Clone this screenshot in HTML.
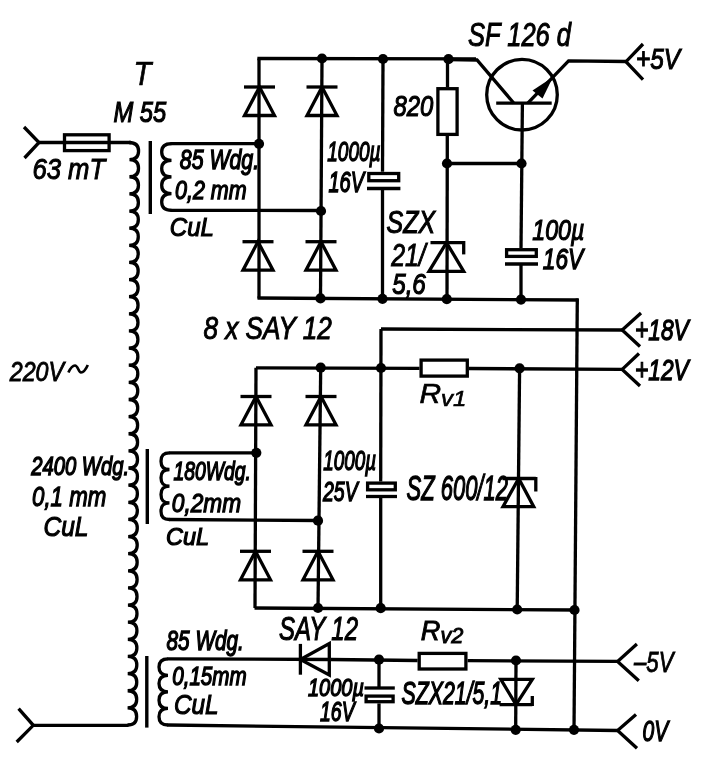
<!DOCTYPE html>
<html><head><meta charset="utf-8"><style>
html,body{margin:0;padding:0;background:#fff;}
svg{display:block;}
text{-webkit-font-smoothing:antialiased;}
.tx{will-change:transform;}
</style></head><body>
<svg width="714" height="768" viewBox="0 0 714 768">
<rect width="714" height="768" fill="#fff"/>
<g fill="none" stroke="#000" stroke-linecap="butt" stroke-linejoin="miter">
<path d="M24 127 L39 142.5 L24.5 158" stroke-width="3.3"/>
<line x1="39" y1="142.5" x2="131" y2="142.5" stroke-width="3.3"/>
<rect x="64.5" y="134.8" width="44.6" height="15.8" stroke-width="3.3"/>
<path d="M129 142.5 C135.47 142.50 138.57 145.00 138.57 151.07 C138.57 157.13 135.44 159.63 129.44 159.63 C135.41 159.63 138.51 162.13 138.51 168.20 C138.51 174.26 135.38 176.76 129.38 176.76 C135.35 176.76 138.45 179.26 138.45 185.33 C138.45 191.40 135.32 193.90 129.32 193.90 C135.29 193.90 138.39 196.40 138.39 202.46 C138.39 208.53 135.26 211.03 129.26 211.03 C135.24 211.03 138.34 213.53 138.34 219.60 C138.34 225.66 135.21 228.16 129.21 228.16 C135.18 228.16 138.28 230.66 138.28 236.73 C138.28 242.79 135.15 245.29 129.15 245.29 C135.12 245.29 138.22 247.79 138.22 253.86 C138.22 259.93 135.09 262.43 129.09 262.43 C135.06 262.43 138.16 264.93 138.16 270.99 C138.16 277.06 135.03 279.56 129.03 279.56 C135.00 279.56 138.10 282.06 138.10 288.12 C138.10 294.19 134.97 296.69 128.97 296.69 C134.94 296.69 138.04 299.19 138.04 305.26 C138.04 311.32 134.91 313.82 128.91 313.82 C134.88 313.82 137.98 316.32 137.98 322.39 C137.98 328.46 134.85 330.96 128.85 330.96 C134.82 330.96 137.92 333.46 137.92 339.52 C137.92 345.59 134.79 348.09 128.79 348.09 C134.76 348.09 137.86 350.59 137.86 356.65 C137.86 362.72 134.74 365.22 128.74 365.22 C134.71 365.22 137.81 367.72 137.81 373.79 C137.81 379.85 134.68 382.35 128.68 382.35 C134.65 382.35 137.75 384.85 137.75 390.92 C137.75 396.99 134.62 399.49 128.62 399.49 C134.59 399.49 137.69 401.99 137.69 408.05 C137.69 414.12 134.56 416.62 128.56 416.62 C134.53 416.62 137.63 419.12 137.63 425.18 C137.63 431.25 134.50 433.75 128.50 433.75 C134.47 433.75 137.57 436.25 137.57 442.32 C137.57 448.38 134.44 450.88 128.44 450.88 C134.41 450.88 137.51 453.38 137.51 459.45 C137.51 465.51 134.38 468.01 128.38 468.01 C134.35 468.01 137.45 470.51 137.45 476.58 C137.45 482.65 134.32 485.15 128.32 485.15 C134.29 485.15 137.39 487.65 137.39 493.71 C137.39 499.78 134.26 502.28 128.26 502.28 C134.24 502.28 137.34 504.78 137.34 510.85 C137.34 516.91 134.21 519.41 128.21 519.41 C134.18 519.41 137.28 521.91 137.28 527.98 C137.28 534.04 134.15 536.54 128.15 536.54 C134.12 536.54 137.22 539.04 137.22 545.11 C137.22 551.18 134.09 553.68 128.09 553.68 C134.06 553.68 137.16 556.18 137.16 562.24 C137.16 568.31 134.03 570.81 128.03 570.81 C134.00 570.81 137.10 573.31 137.10 579.38 C137.10 585.44 133.97 587.94 127.97 587.94 C133.94 587.94 137.04 590.44 137.04 596.51 C137.04 602.57 133.91 605.07 127.91 605.07 C133.88 605.07 136.98 607.57 136.98 613.64 C136.98 619.71 133.85 622.21 127.85 622.21 C133.82 622.21 136.92 624.71 136.92 630.77 C136.92 636.84 133.79 639.34 127.79 639.34 C133.76 639.34 136.86 641.84 136.86 647.90 C136.86 653.97 133.74 656.47 127.74 656.47 C133.71 656.47 136.81 658.97 136.81 665.04 C136.81 671.10 133.68 673.60 127.68 673.60 C133.65 673.60 136.75 676.10 136.75 682.17 C136.75 688.24 133.62 690.74 127.62 690.74 C133.59 690.74 136.69 693.24 136.69 699.30 C136.69 705.37 133.56 707.87 127.56 707.87 C133.53 707.87 136.63 710.37 136.63 716.43 C136.63 722.50 133.50 725.00 127.50 725.00" stroke-width="3.3"/>
<line x1="33.3" y1="725.3" x2="128.5" y2="725.3" stroke-width="3.3"/>
<path d="M18.6 708.6 L33.3 725.3 L16.7 742" stroke-width="3.3"/>
<line x1="150.3" y1="141" x2="150.3" y2="214" stroke-width="3.4"/>
<line x1="147.3" y1="449" x2="147.3" y2="524" stroke-width="3.4"/>
<line x1="146.8" y1="656" x2="146.8" y2="727.6" stroke-width="3.4"/>
<path d="M171.5 143.6 C165.50 143.60 161.70 146.10 161.70 151.94 C161.70 157.78 165.50 160.28 171.50 160.28 C165.50 160.28 161.70 162.78 161.70 168.61 C161.70 174.45 165.50 176.95 171.50 176.95 C165.50 176.95 161.70 179.45 161.70 185.29 C161.70 191.12 165.50 193.62 171.50 193.62 C165.50 193.62 161.70 196.12 161.70 201.96 C161.70 207.80 165.50 210.30 171.50 210.30" stroke-width="3.3"/>
<path d="M169.5 452.8 C163.50 452.80 161.00 455.30 161.00 461.14 C161.00 466.98 163.50 469.48 169.50 469.48 C163.50 469.48 161.00 471.98 161.00 477.81 C161.00 483.65 163.50 486.15 169.50 486.15 C163.50 486.15 161.00 488.65 161.00 494.49 C161.00 500.32 163.50 502.82 169.50 502.82 C163.50 502.82 161.00 505.32 161.00 511.16 C161.00 517.00 163.50 519.50 169.50 519.50" stroke-width="3.3"/>
<path d="M168 658.8 C162.00 658.80 159.00 661.30 159.00 667.07 C159.00 672.85 162.00 675.35 168.00 675.35 C162.00 675.35 159.00 677.85 159.00 683.62 C159.00 689.40 162.00 691.90 168.00 691.90 C162.00 691.90 159.00 694.40 159.00 700.17 C159.00 705.95 162.00 708.45 168.00 708.45 C162.00 708.45 159.00 710.95 159.00 716.73 C159.00 722.50 162.00 725.00 168.00 725.00" stroke-width="3.3"/>
<line x1="170.5" y1="143.6" x2="259" y2="143.6" stroke-width="3.3"/>
<line x1="170.5" y1="210.3" x2="321" y2="210.5" stroke-width="3.3"/>
<line x1="259" y1="58.5" x2="259" y2="298.5" stroke-width="3.3"/>
<line x1="322" y1="58.5" x2="320.5" y2="298.5" stroke-width="3.3"/>
<line x1="257.4" y1="58.5" x2="476" y2="58.8" stroke-width="3.3"/>
<line x1="257.5" y1="298" x2="578.5" y2="300" stroke-width="3.3"/>
<line x1="244.0" y1="87" x2="275.0" y2="87" stroke-width="3.3"/>
<path d="M244.5 115.5 L274.5 115.5 L259.5 87 Z" stroke-width="3.3"/>
<line x1="306.5" y1="87" x2="337.5" y2="87" stroke-width="3.3"/>
<path d="M307.0 115.5 L337.0 115.5 L322 87 Z" stroke-width="3.3"/>
<line x1="242.5" y1="241.7" x2="273.5" y2="241.7" stroke-width="3.3"/>
<path d="M243.0 270.2 L273.0 270.2 L258 241.7 Z" stroke-width="3.3"/>
<line x1="305.5" y1="241.7" x2="336.5" y2="241.7" stroke-width="3.3"/>
<path d="M306.0 270.2 L336.0 270.2 L321 241.7 Z" stroke-width="3.3"/>
<circle cx="322" cy="58.5" r="5.1" fill="#000" stroke="none"/>
<circle cx="383" cy="59" r="5.1" fill="#000" stroke="none"/>
<circle cx="448.5" cy="59.2" r="5.1" fill="#000" stroke="none"/>
<circle cx="259" cy="143.8" r="5.1" fill="#000" stroke="none"/>
<circle cx="321" cy="211" r="5.1" fill="#000" stroke="none"/>
<circle cx="320.5" cy="298.4" r="5.1" fill="#000" stroke="none"/>
<circle cx="382.5" cy="298.8" r="5.1" fill="#000" stroke="none"/>
<circle cx="446.8" cy="299.2" r="5.1" fill="#000" stroke="none"/>
<circle cx="521" cy="299.6" r="5.1" fill="#000" stroke="none"/>
<line x1="383" y1="59" x2="382.5" y2="171.8" stroke-width="3.3"/>
<line x1="382.5" y1="188.5" x2="382.5" y2="298.5" stroke-width="3.3"/>
<rect x="368.8" y="173.5" width="29.9" height="7.2" stroke-width="3.3"/>
<line x1="367" y1="188.5" x2="400.4" y2="188.5" stroke-width="3.3"/>
<line x1="447.5" y1="59" x2="447.5" y2="87" stroke-width="3.3"/>
<line x1="447.3" y1="136" x2="447" y2="298.5" stroke-width="3.3"/>
<rect x="437.9" y="88.7" width="19.2" height="45.7" stroke-width="3.3"/>
<line x1="447" y1="163.5" x2="521.5" y2="163.5" stroke-width="3.3"/>
<circle cx="447" cy="163.5" r="5.1" fill="#000" stroke="none"/>
<circle cx="521.5" cy="163.5" r="5.1" fill="#000" stroke="none"/>
<line x1="430.5" y1="242.6" x2="463.7" y2="242.6" stroke-width="3.3"/>
<line x1="463.7" y1="241" x2="463.7" y2="254.4" stroke-width="3.3"/>
<path d="M429 271.3 L463.7 271.3 L446.5 242.6 Z" stroke-width="3.3"/>
<circle cx="522" cy="94.7" r="35.3" stroke-width="3.3"/>
<path d="M448.5 59.5 L477 60 L513.9 103.2" stroke-width="3.3"/>
<line x1="496.2" y1="103.2" x2="551.7" y2="103.2" stroke-width="3.3"/>
<line x1="522.4" y1="103.2" x2="521" y2="248" stroke-width="3.3"/>
<line x1="521" y1="264" x2="521" y2="298.5" stroke-width="3.3"/>
<path d="M527.8 103.2 L568.6 60.8 L626 61.5" stroke-width="3.3"/>
<path d="M553 77 L532.5 90.5 L542.5 98.5 Z" fill="#000" stroke="none"/>
<path d="M643 44 L626 61.7 L643 79.7" stroke-width="3.3"/>
<rect x="506.6" y="249.7" width="29.7" height="6.7" stroke-width="3.3"/>
<line x1="505" y1="264" x2="538" y2="264" stroke-width="3.3"/>
<path d="M68.4 372.5 C70.5 368 72.5 365.5 75 365.5 C78 365.5 78.5 372.5 81 372.5 C84 372.5 86 369 87.8 365" stroke-width="2.7"/>
<line x1="577.3" y1="298.5" x2="574" y2="731" stroke-width="3.3"/>
<line x1="381" y1="329" x2="622" y2="330" stroke-width="3.3"/>
<path d="M641 313 L622.2 330 L640 346.5" stroke-width="3.3"/>
<line x1="256" y1="367.8" x2="419.5" y2="368.3" stroke-width="3.3"/>
<line x1="469" y1="368.5" x2="622.2" y2="369.4" stroke-width="3.3"/>
<path d="M639 353.5 L622.2 369.4 L640 386" stroke-width="3.3"/>
<rect x="421.1" y="360.1" width="46.2" height="16.0" stroke-width="3.3"/>
<line x1="381" y1="329" x2="380.7" y2="481.5" stroke-width="3.3"/>
<line x1="380.7" y1="496.5" x2="380.7" y2="608" stroke-width="3.3"/>
<line x1="256" y1="367.8" x2="255" y2="608" stroke-width="3.3"/>
<line x1="320.7" y1="367.8" x2="318" y2="608" stroke-width="3.3"/>
<line x1="519.6" y1="368" x2="517.2" y2="610" stroke-width="3.3"/>
<line x1="169" y1="452.8" x2="256.5" y2="452.8" stroke-width="3.3"/>
<line x1="169" y1="519.5" x2="318" y2="520.5" stroke-width="3.3"/>
<line x1="254.5" y1="608" x2="577" y2="610" stroke-width="3.3"/>
<line x1="240.5" y1="396.5" x2="271.5" y2="396.5" stroke-width="3.3"/>
<path d="M241.0 424.8 L271.0 424.8 L256 396.5 Z" stroke-width="3.3"/>
<line x1="305.5" y1="396.5" x2="336.5" y2="396.5" stroke-width="3.3"/>
<path d="M306.0 424.8 L336.0 424.8 L321 396.5 Z" stroke-width="3.3"/>
<line x1="240.0" y1="551.3" x2="271.0" y2="551.3" stroke-width="3.3"/>
<path d="M240.5 579.8 L270.5 579.8 L255.5 551.3 Z" stroke-width="3.3"/>
<line x1="302.5" y1="551.3" x2="333.5" y2="551.3" stroke-width="3.3"/>
<path d="M303.0 579.8 L333.0 579.8 L318 551.3 Z" stroke-width="3.3"/>
<circle cx="320.7" cy="367.7" r="5.1" fill="#000" stroke="none"/>
<circle cx="381" cy="368" r="5.1" fill="#000" stroke="none"/>
<circle cx="519.6" cy="368.3" r="5.1" fill="#000" stroke="none"/>
<circle cx="256.3" cy="452.8" r="5.1" fill="#000" stroke="none"/>
<circle cx="318" cy="520.7" r="5.1" fill="#000" stroke="none"/>
<circle cx="318" cy="608" r="5.1" fill="#000" stroke="none"/>
<circle cx="380.7" cy="608.2" r="5.1" fill="#000" stroke="none"/>
<circle cx="517.2" cy="609.5" r="5.1" fill="#000" stroke="none"/>
<circle cx="574.5" cy="610" r="5.1" fill="#000" stroke="none"/>
<rect x="367.6" y="483.1" width="27.7" height="6.7" stroke-width="3.3"/>
<line x1="366" y1="496.5" x2="397" y2="496.5" stroke-width="3.3"/>
<line x1="502.6" y1="478.5" x2="535.8" y2="478.5" stroke-width="3.3"/>
<line x1="535.8" y1="477" x2="535.8" y2="491.5" stroke-width="3.3"/>
<path d="M503 506.6 L533.7 506.6 L518.7 478.5 Z" stroke-width="3.3"/>
<line x1="167.5" y1="658.8" x2="330" y2="659.5" stroke-width="3.3"/>
<line x1="300.4" y1="643.9" x2="300.4" y2="674.7" stroke-width="3.3"/>
<path d="M329.3 643.5 L329.3 675 L300.4 659.5 Z" stroke-width="3.3"/>
<line x1="330.5" y1="659.5" x2="417.6" y2="660.5" stroke-width="3.3"/>
<rect x="419.2" y="653.4" width="46.7" height="15.6" stroke-width="3.3"/>
<line x1="467.6" y1="660.7" x2="617.6" y2="661.4" stroke-width="3.3"/>
<path d="M636.9 644.1 L617.6 661.4 L638.8 680.7" stroke-width="3.3"/>
<line x1="167.5" y1="725" x2="617.6" y2="730.5" stroke-width="3.3"/>
<path d="M636 714.5 L617.6 730.5 L637 748.2" stroke-width="3.3"/>
<line x1="379" y1="659.7" x2="379" y2="688" stroke-width="3.3"/>
<line x1="379" y1="703.4" x2="379" y2="728.5" stroke-width="3.3"/>
<line x1="364.5" y1="688" x2="394.8" y2="688" stroke-width="3.3"/>
<rect x="366.1" y="696.1" width="27.0" height="5.6" stroke-width="3.3"/>
<line x1="516" y1="660.5" x2="515.7" y2="729.8" stroke-width="3.3"/>
<path d="M500.8 679.4 L532.3 679.4 L516 704.6 Z" stroke-width="3.3"/>
<line x1="499.6" y1="704.6" x2="532.3" y2="704.6" stroke-width="3.3"/>
<line x1="532.3" y1="696" x2="532.3" y2="706" stroke-width="3.3"/>
<circle cx="379" cy="659.7" r="5.1" fill="#000" stroke="none"/>
<circle cx="516" cy="660.5" r="5.1" fill="#000" stroke="none"/>
<circle cx="379" cy="728.5" r="5.1" fill="#000" stroke="none"/>
<circle cx="515.7" cy="729.8" r="5.1" fill="#000" stroke="none"/>
<circle cx="574" cy="729.8" r="5.1" fill="#000" stroke="none"/>
</g>
<g class="tx" font-family="Liberation Sans, sans-serif" font-style="italic" fill="#000" stroke="#000" stroke-width="0.8">
<text x="133.60" y="85.30" font-size="32.41" textLength="17.84" lengthAdjust="spacingAndGlyphs" stroke-width="0.74">T</text>
<text x="113.40" y="121.60" font-size="29.36" textLength="52.72" lengthAdjust="spacingAndGlyphs" stroke-width="1.2">M 55</text>
<text x="32.40" y="179.20" font-size="29.22" textLength="72.70" lengthAdjust="spacingAndGlyphs" stroke-width="1.02">63 mT</text>
<text x="179.80" y="169.00" font-size="27.33" textLength="79.28" lengthAdjust="spacingAndGlyphs" stroke-width="1.4">85 Wdg.</text>
<text x="175.00" y="199.10" font-size="26.31" textLength="71.71" lengthAdjust="spacingAndGlyphs" stroke-width="1.34">0,2 mm</text>
<text x="169.80" y="236.20" font-size="26.31" textLength="44.13" lengthAdjust="spacingAndGlyphs" stroke-width="1.15">CuL</text>
<text x="327.20" y="160.60" font-size="28.05" textLength="53.37" lengthAdjust="spacingAndGlyphs" stroke-width="1.4">1000µ</text>
<text x="328.40" y="191.50" font-size="28.78" textLength="35.73" lengthAdjust="spacingAndGlyphs" stroke-width="1.4">16V</text>
<text x="393.40" y="115.60" font-size="29.36" textLength="39.75" lengthAdjust="spacingAndGlyphs" stroke-width="1.17">820</text>
<text x="468.00" y="45.70" font-size="32.99" textLength="103.01" lengthAdjust="spacingAndGlyphs" stroke-width="1.03">SF 126 d</text>
<text x="636.00" y="69.30" font-size="30.38" textLength="44.02" lengthAdjust="spacingAndGlyphs" stroke-width="1.13">+5V</text>
<text x="386.60" y="232.80" font-size="31.10" textLength="48.44" lengthAdjust="spacingAndGlyphs" stroke-width="1.11">SZX</text>
<text x="391.20" y="266.00" font-size="31.98" textLength="34.57" lengthAdjust="spacingAndGlyphs" stroke-width="1.02">21/</text>
<text x="392.20" y="294.00" font-size="29.07" textLength="33.61" lengthAdjust="spacingAndGlyphs" stroke-width="1.18">5,6</text>
<text x="532.20" y="240.00" font-size="30.23" textLength="52.29" lengthAdjust="spacingAndGlyphs" stroke-width="1.23">100µ</text>
<text x="542.80" y="269.40" font-size="28.78" textLength="40.34" lengthAdjust="spacingAndGlyphs" stroke-width="1.29">16V</text>
<text x="203.40" y="339.30" font-size="30.96" textLength="128.43" lengthAdjust="spacingAndGlyphs" stroke-width="0.99">8 x SAY 12</text>
<text x="635.00" y="340.00" font-size="30.23" textLength="53.68" lengthAdjust="spacingAndGlyphs" stroke-width="1.27">+18V</text>
<text x="635.00" y="379.60" font-size="29.36" textLength="53.68" lengthAdjust="spacingAndGlyphs" stroke-width="1.27">+12V</text>
<text x="9.80" y="380.60" font-size="28.05" textLength="54.24" lengthAdjust="spacingAndGlyphs" stroke-width="0.92">220V</text>
<text x="419.40" y="403.00" font-size="28.05" textLength="46.96" lengthAdjust="spacingAndGlyphs" stroke-width="0.66">R<tspan font-size="0.8em" dy="0.12em">v1</tspan></text>
<text x="31.20" y="474.60" font-size="25.58" textLength="97.90" lengthAdjust="spacingAndGlyphs" stroke-width="1.4">2400 Wdg.</text>
<text x="32.00" y="505.50" font-size="28.05" textLength="74.29" lengthAdjust="spacingAndGlyphs" stroke-width="1.26">0,1 mm</text>
<text x="43.40" y="536.30" font-size="28.05" textLength="45.09" lengthAdjust="spacingAndGlyphs" stroke-width="1.1">CuL</text>
<text x="173.40" y="479.70" font-size="25.29" textLength="77.52" lengthAdjust="spacingAndGlyphs" stroke-width="1.4">180Wdg.</text>
<text x="171.80" y="511.90" font-size="26.31" textLength="69.27" lengthAdjust="spacingAndGlyphs" stroke-width="1.28">0,2mm</text>
<text x="166.00" y="544.80" font-size="24.27" textLength="42.98" lengthAdjust="spacingAndGlyphs" stroke-width="1.22">CuL</text>
<text x="323.20" y="470.40" font-size="27.33" textLength="52.86" lengthAdjust="spacingAndGlyphs" stroke-width="1.4">1000µ</text>
<text x="323.00" y="501.20" font-size="27.33" textLength="34.72" lengthAdjust="spacingAndGlyphs" stroke-width="1.4">25V</text>
<text x="406.60" y="499.90" font-size="35.47" textLength="101.26" lengthAdjust="spacingAndGlyphs" stroke-width="1.34">SZ 600/12</text>
<text x="279.00" y="639.60" font-size="33.14" textLength="79.00" lengthAdjust="spacingAndGlyphs" stroke-width="1.16">SAY 12</text>
<text x="166.60" y="649.70" font-size="26.89" textLength="77.13" lengthAdjust="spacingAndGlyphs" stroke-width="1.4">85 Wdg.</text>
<text x="172.20" y="684.80" font-size="25.87" textLength="74.46" lengthAdjust="spacingAndGlyphs" stroke-width="1.4">0,15mm</text>
<text x="174.00" y="714.20" font-size="28.05" textLength="44.59" lengthAdjust="spacingAndGlyphs" stroke-width="1.14">CuL</text>
<text x="308.00" y="695.60" font-size="24.71" textLength="55.93" lengthAdjust="spacingAndGlyphs" stroke-width="1.4">1000µ</text>
<text x="320.00" y="720.90" font-size="27.33" textLength="34.61" lengthAdjust="spacingAndGlyphs" stroke-width="1.4">16V</text>
<text x="420.80" y="640.40" font-size="27.03" textLength="42.61" lengthAdjust="spacingAndGlyphs" stroke-width="0.92">R<tspan font-size="0.8em" dy="0.12em">v2</tspan></text>
<text x="401.60" y="704.00" font-size="30.52" textLength="100.52" lengthAdjust="spacingAndGlyphs" stroke-width="1.4">SZX21/5,1</text>
<text x="634.00" y="671.60" font-size="29.65" textLength="39.42" lengthAdjust="spacingAndGlyphs" stroke-width="0.93">–5V</text>
<text x="642.60" y="741.10" font-size="28.63" textLength="25.65" lengthAdjust="spacingAndGlyphs" stroke-width="1.31">0V</text>
</g>
</svg>
</body></html>
